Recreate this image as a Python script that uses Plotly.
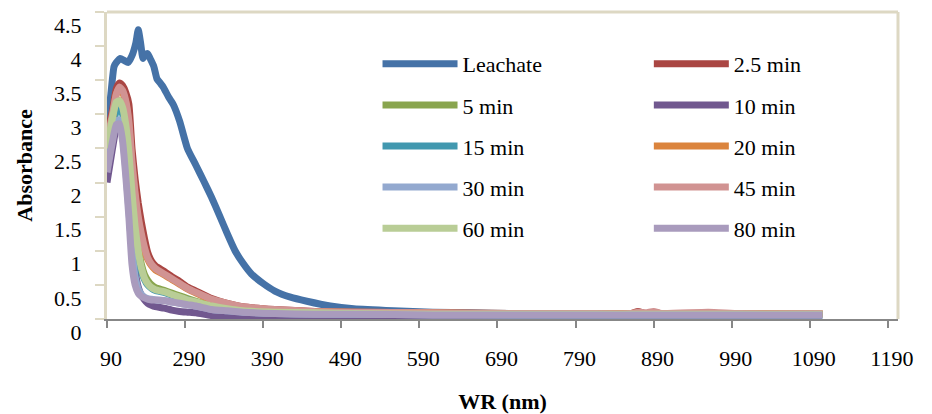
import plotly.graph_objects as go

# ---- data ----
leachate_wl = [190, 195, 199, 202, 207, 212, 217, 222, 227, 230, 233, 236, 239, 242, 246, 250, 254, 258,
               262, 269, 275, 283, 293, 304, 314, 324, 334, 344, 354, 364, 375, 390, 405, 425, 446, 476,
               506, 557, 607, 657, 707, 800, 900, 1000, 1106]
leachate_abs = [2.8, 3.3, 3.7, 3.76, 3.82, 3.79, 3.76, 3.86, 4.05, 4.24, 4.05, 3.82, 3.88, 3.89, 3.8, 3.7,
                3.52, 3.46, 3.4, 3.25, 3.14, 2.9, 2.5, 2.25, 2.02, 1.78, 1.52, 1.25, 1.0, 0.82, 0.66, 0.52,
                0.41, 0.32, 0.26, 0.19, 0.15, 0.12, 0.1, 0.09, 0.08, 0.08, 0.08, 0.07, 0.07]

wl = [190, 197, 202, 206, 210, 214, 218, 222, 226, 230, 234, 238, 242, 247, 252, 263, 273, 283, 293, 304,
      324, 344, 364, 405, 456, 506, 607, 707, 800, 860, 870, 880, 890, 900, 960, 1000, 1106]

abs_2_5 = [2.7, 3.06, 3.38, 3.46, 3.42, 3.32, 3.15, 2.5, 2.05, 1.7, 1.42, 1.18, 0.98, 0.85, 0.78, 0.7,
           0.62, 0.55, 0.47, 0.41, 0.3, 0.23, 0.18, 0.14, 0.11, 0.1, 0.09, 0.08, 0.08, 0.08, 0.11, 0.08,
           0.1, 0.08, 0.08, 0.08, 0.08]
abs_5 = [2.5, 2.9, 3.15, 3.2, 3.1, 2.9, 2.5, 1.9, 1.4, 1.05, 0.8, 0.65, 0.57, 0.5, 0.46, 0.42, 0.38,
         0.34, 0.3, 0.26, 0.2, 0.16, 0.13, 0.1, 0.09, 0.08, 0.07, 0.07, 0.07, 0.07, 0.07, 0.07, 0.07,
         0.07, 0.07, 0.07, 0.07]
abs_10 = [2.0, 2.5, 2.8, 2.85, 2.7, 2.3, 1.7, 1.1, 0.7, 0.47, 0.35, 0.28, 0.23, 0.2, 0.18, 0.16, 0.13,
          0.11, 0.1, 0.09, 0.05, 0.03, 0.03, 0.03, 0.03, 0.03, 0.03, 0.03, 0.03, 0.03, 0.03, 0.03, 0.03,
          0.03, 0.03, 0.03, 0.03]
abs_15 = [2.4, 2.8, 3.05, 3.1, 3.0, 2.75, 2.3, 1.7, 1.25, 0.9, 0.7, 0.58, 0.5, 0.45, 0.42, 0.39, 0.35,
          0.31, 0.28, 0.24, 0.18, 0.15, 0.12, 0.1, 0.08, 0.07, 0.07, 0.06, 0.06, 0.06, 0.06, 0.06, 0.06,
          0.06, 0.06, 0.06, 0.06]
abs_20 = [2.6, 2.95, 3.3, 3.38, 3.32, 3.18, 2.85, 2.25, 1.8, 1.45, 1.2, 1.0, 0.88, 0.78, 0.72, 0.65,
          0.58, 0.51, 0.44, 0.38, 0.28, 0.22, 0.17, 0.13, 0.11, 0.1, 0.09, 0.08, 0.08, 0.08, 0.09, 0.08,
          0.09, 0.08, 0.08, 0.08, 0.08]
abs_30 = [2.2, 2.65, 2.9, 2.92, 2.7, 2.2, 1.6, 1.0, 0.62, 0.44, 0.36, 0.32, 0.3, 0.29, 0.28, 0.27, 0.25,
          0.23, 0.21, 0.19, 0.14, 0.12, 0.1, 0.08, 0.07, 0.07, 0.06, 0.06, 0.06, 0.06, 0.06, 0.06, 0.06,
          0.06, 0.06, 0.06, 0.06]
abs_45 = [2.6, 3.0, 3.3, 3.4, 3.35, 3.2, 2.9, 2.3, 1.85, 1.5, 1.25, 1.05, 0.9, 0.8, 0.74, 0.66, 0.59,
          0.52, 0.45, 0.39, 0.29, 0.23, 0.18, 0.14, 0.11, 0.1, 0.09, 0.08, 0.08, 0.08, 0.1, 0.09, 0.11,
          0.08, 0.1, 0.08, 0.08]
abs_60 = [2.5, 2.95, 3.18, 3.2, 3.1, 2.85, 2.45, 1.85, 1.35, 1.0, 0.75, 0.6, 0.52, 0.46, 0.43, 0.4,
          0.36, 0.32, 0.28, 0.25, 0.19, 0.15, 0.12, 0.1, 0.09, 0.08, 0.07, 0.07, 0.07, 0.07, 0.07, 0.07,
          0.07, 0.07, 0.07, 0.07, 0.07]
abs_80 = [2.15, 2.6, 2.85, 2.86, 2.6, 2.1, 1.5, 0.8, 0.5, 0.38, 0.33, 0.31, 0.29, 0.28, 0.28, 0.27,
          0.25, 0.23, 0.21, 0.19, 0.14, 0.12, 0.1, 0.08, 0.07, 0.07, 0.06, 0.06, 0.06, 0.06, 0.06, 0.06,
          0.06, 0.06, 0.06, 0.06, 0.06]

x_tickvals = [190, 290, 390, 490, 590, 690, 790, 890, 990, 1090, 1190]
x_ticktext = ["90", "290", "390", "490", "590", "690", "790", "890", "990", "1090", "1190"]
y_tickvals = [0, 0.5, 1, 1.5, 2, 2.5, 3, 3.5, 4, 4.5]
y_ticktext = ["0", "0.5", "1", "1.5", "2", "2.5", "3", "3.5", "4", "4.5"]

series = [
    ("Leachate", leachate_wl, leachate_abs, "#4572A7", "legend"),
    ("2.5 min", wl, abs_2_5, "#AA4643", "legend2"),
    ("5 min", wl, abs_5, "#89A54E", "legend"),
    ("10 min", wl, abs_10, "#71588F", "legend2"),
    ("15 min", wl, abs_15, "#4198AF", "legend"),
    ("20 min", wl, abs_20, "#DB843D", "legend2"),
    ("30 min", wl, abs_30, "#93A9CF", "legend"),
    ("45 min", wl, abs_45, "#D19392", "legend2"),
    ("60 min", wl, abs_60, "#B9CD96", "legend"),
    ("80 min", wl, abs_80, "#A99BBD", "legend2"),
]

FONT = "Liberation Serif"
TAN = "#DDD8C3"
GRAY = "#878787"

fig = go.Figure()
for name, xs, ys, color, leg in series:
    fig.add_trace(go.Scatter(
        x=xs, y=ys, name=name, mode="lines",
        line=dict(color=color, width=7, shape="spline", smoothing=0.5),
        legend=leg, legendgroup=name,
    ))

legend_common = dict(
    font=dict(family=FONT, size=22, color="black"),
    bgcolor="rgba(0,0,0,0)", borderwidth=0,
    itemwidth=75, tracegroupgap=9.5,
    xanchor="left", yanchor="top", orientation="v",
)

fig.update_layout(
    width=932, height=414,
    margin=dict(l=107, r=34, t=12, b=95, autoexpand=False),
    paper_bgcolor="white", plot_bgcolor="white",
    font=dict(family=FONT, size=22, color="black"),
    showlegend=True,
    legend=dict(x=0.342, y=0.899, **legend_common),
    legend2=dict(x=0.685, y=0.899, **legend_common),
    xaxis=dict(
        range=[190, 1203], tickmode="array", tickvals=x_tickvals, ticktext=x_ticktext,
        showgrid=False, zeroline=False, showline=True, linecolor=GRAY, linewidth=2,
        ticks="outside", ticklen=7, tickwidth=2, tickcolor=GRAY, automargin=False,
        tickfont=dict(family=FONT, size=22, color="black"),
        ticklabelstandoff=12, ticklabelshift=4,
        title=dict(text="<b>WR (nm)</b>", font=dict(family=FONT, size=22, color="black"), standoff=28),
    ),
    yaxis=dict(
        range=[0, 4.5], tickmode="array", tickvals=y_tickvals, ticktext=y_ticktext,
        showgrid=False, zeroline=False, showline=True, linecolor=TAN, linewidth=3,
        ticks="outside", ticklen=9, tickwidth=2, tickcolor=TAN, automargin=False,
        tickfont=dict(family=FONT, size=22, color="black"),
        ticklabelstandoff=9, ticklabelshift=13,
        title=dict(text="<b>Absorbance</b>", font=dict(family=FONT, size=22, color="black"), standoff=16),
    ),
    shapes=[
        dict(type="line", xref="paper", yref="paper", x0=0, x1=1, y0=1, y1=1,
             line=dict(color=TAN, width=3), layer="below"),
        dict(type="line", xref="paper", yref="paper", x0=1, x1=1, y0=0, y1=1,
             line=dict(color=TAN, width=3), layer="below"),
    ],
)

fig.write_html("out.html")
